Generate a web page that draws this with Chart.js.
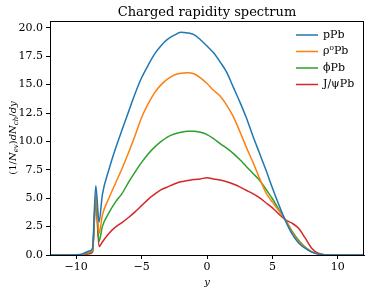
<!DOCTYPE html>
<html>
<head>
<meta charset="utf-8">
<script src="https://cdn.jsdelivr.net/npm/chart.js@4.4.1/dist/chart.umd.min.js"></script>
<style>
  body { margin: 0; background: #fff; }
  #wrap { width: 374px; height: 292px; }
</style>
</head>
<body>
<div id="wrap"><canvas id="myChart" width="374" height="292"></canvas></div>
<script>
// rapidity bins (y)
const rapidity = [-12, -11, -10, -9.5, -9, -8.75, -8.5, -8.25, -8, -7.5, -7, -6.5, -6, -5.5, -5, -4.5, -4, -3.5, -3, -2.5, -2, -1.5, -1, -0.5,
  0, 0.5, 1, 1.5, 2, 2.5, 3, 3.5, 4, 4.5, 5, 5.5, 6, 6.5, 7, 7.5, 8, 8.5, 9, 10, 11, 12];

const pPb = [0, 0, 0.02, 0.1, 0.35, 0.6, 6.1, 2.9, 5.3, 7.5, 9.35, 11.0, 12.6, 14.2, 15.6, 16.7, 17.7, 18.45, 19.0, 19.35, 19.6, 19.55, 19.4, 18.95,
  18.4, 17.8, 17.0, 16.1, 14.8, 13.5, 12.1, 10.5, 9.0, 7.5, 5.9, 4.4, 3.0, 1.85, 1.05, 0.6, 0.25, 0.08, 0.01, 0, 0, 0];
const rhoPb = [0, 0, 0.01, 0.07, 0.25, 0.45, 5.4, 1.9, 3.5, 5.0, 6.3, 7.6, 9.0, 10.5, 12.1, 13.3, 14.3, 15.0, 15.5, 15.85, 16.0, 16.05, 15.95, 15.6,
  15.1, 14.5, 14.0, 13.2, 12.2, 10.9, 9.5, 8.2, 6.8, 5.5, 4.65, 3.9, 3.1, 2.0, 1.2, 0.65, 0.28, 0.08, 0.01, 0, 0, 0];
const phiPb = [0, 0, 0.01, 0.05, 0.2, 0.35, 5.1, 1.2, 2.5, 3.7, 4.65, 5.4, 6.4, 7.3, 8.15, 8.9, 9.5, 10.0, 10.4, 10.65, 10.8, 10.9, 10.9, 10.8,
  10.6, 10.25, 9.8, 9.4, 8.95, 8.4, 7.8, 7.2, 6.6, 5.8, 4.95, 4.0, 3.1, 2.1, 1.3, 0.7, 0.3, 0.1, 0.02, 0, 0, 0];
const jpsiPb = [0, 0, 0, 0.02, 0.1, 0.25, 4.7, 0.75, 1.15, 1.9, 2.45, 2.85, 3.3, 3.8, 4.35, 4.9, 5.35, 5.75, 6.0, 6.25, 6.45, 6.55, 6.65, 6.7,
  6.8, 6.7, 6.6, 6.45, 6.25, 6.0, 5.7, 5.4, 5.05, 4.6, 4.15, 3.6, 3.1, 2.8, 2.35, 1.5, 0.6, 0.15, 0.03, 0, 0, 0];

const labels = ['pPb', 'ρ⁰Pb', 'ϕPb', 'J/ψPb'];
const colors = ['#1f77b4', '#ff7f0e', '#2ca02c', '#d62728'];
const xTicks = [-10, -5, 0, 5, 10];
const yTicks = [0, 2.5, 5, 7.5, 10, 12.5, 15, 17.5, 20];

const serif = "'DejaVu Serif', serif";

function series(vals) {
  return rapidity.map((x, i) => ({ x: x, y: vals[i] }));
}

const data = [pPb, rhoPb, phiPb, jpsiPb];

// title, y label, frame and legend drawn by hand like matplotlib
const extras = {
  id: 'extras',
  afterDraw(chart) {
    const c = chart.ctx;
    const a = chart.chartArea;
    c.save();
    // frame (top + right spines)
    c.strokeStyle = '#000';
    c.lineWidth = 1;
    c.strokeRect(a.left + 0.5, a.top + 0.5, a.right - a.left - 1, a.bottom - a.top);

    // title
    c.fillStyle = '#000';
    c.font = '13px ' + serif;
    c.textAlign = 'center';
    c.textBaseline = 'alphabetic';
    c.fillText('Charged rapidity spectrum', (a.left + a.right) / 2, 16);

    // y label with subscripts
    const parts = [
      { t: '(1/', it: false }, { t: 'N', it: true }, { t: 'ev', it: true, sub: true },
      { t: ')', it: false }, { t: 'dN', it: true }, { t: 'ch', it: true, sub: true },
      { t: '/', it: false }, { t: 'dy', it: true }
    ];
    const fnt = p => (p.it ? 'italic ' : '') + (p.sub ? '7px ' : '10px ') + serif;
    let total = 0;
    parts.forEach(p => { c.font = fnt(p); total += c.measureText(p.t).width; });
    c.translate(16, (a.top + a.bottom) / 2);
    c.rotate(-Math.PI / 2);
    c.textAlign = 'left';
    let px = -total / 2;
    parts.forEach(p => {
      c.font = fnt(p);
      c.fillText(p.t, px, p.sub ? 2 : 0);
      px += c.measureText(p.t).width;
    });
    c.setTransform(1, 0, 0, 1, 0, 0);

    // legend
    c.font = '11px ' + serif;
    c.textAlign = 'left';
    c.textBaseline = 'middle';
    chart.data.datasets.forEach((ds, i) => {
      const y = 35 + i * 16.5;
      c.strokeStyle = ds.borderColor;
      c.lineWidth = 1.5;
      c.beginPath();
      c.moveTo(296, y);
      c.lineTo(318, y);
      c.stroke();
      c.fillStyle = '#000';
      c.fillText(ds.label, 323, y);
    });
    c.restore();
  }
};

new Chart(document.getElementById('myChart'), {
  type: 'line',
  data: {
    datasets: data.map((vals, i) => ({
      label: labels[i],
      data: series(vals),
      borderColor: colors[i],
      backgroundColor: colors[i],
      borderWidth: 1.5,
      pointRadius: 0,
      cubicInterpolationMode: 'monotone',
      fill: false
    }))
  },
  options: {
    responsive: false,
    animation: false,
    layout: { padding: { top: 21, right: 10, left: 0, bottom: 0 } },
    plugins: {
      legend: { display: false },
      title: { display: false },
      tooltip: { enabled: false }
    },
    scales: {
      x: {
        type: 'linear',
        min: -12,
        max: 12,
        afterBuildTicks: s => { s.ticks = xTicks.map(v => ({ value: v })); },
        afterFit: s => { s.height = 37; },
        grid: { drawOnChartArea: false, color: '#000', tickLength: 4 },
        border: { color: '#000', width: 1 },
        ticks: {
          color: '#000',
          font: { family: serif, size: 11 },
          padding: 2,
          maxRotation: 0,
          callback: v => String(v).replace('-', '\u2212')
        },
        title: {
          display: true,
          text: 'y',
          color: '#000',
          font: { family: serif, size: 10, style: 'italic' },
          padding: { top: 0, bottom: 4 }
        }
      },
      y: {
        type: 'linear',
        min: 0,
        max: 20.6,
        afterBuildTicks: s => { s.ticks = yTicks.map(v => ({ value: v })); },
        afterFit: s => { s.width = 50; },
        grid: { drawOnChartArea: false, color: '#000', tickLength: 4 },
        border: { color: '#000', width: 1 },
        ticks: {
          color: '#000',
          font: { family: serif, size: 11 },
          padding: 3,
          callback: v => v.toFixed(1)
        }
      }
    }
  },
  plugins: [extras]
});
</script>
</body>
</html>
